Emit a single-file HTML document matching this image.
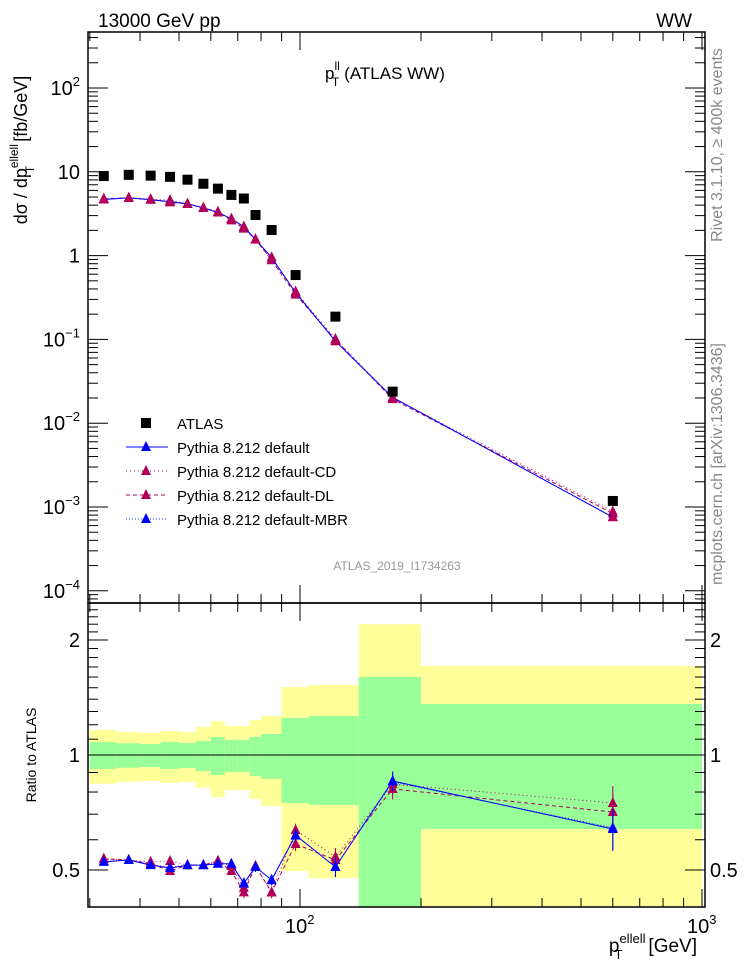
<!DOCTYPE html>
<html><head><meta charset="utf-8"><style>
html,body{margin:0;padding:0;background:#fff;}
svg{display:block;font-family:"Liberation Sans",sans-serif;}
</style></head><body>
<svg id="chart" width="746" height="972" viewBox="0 0 746 972" xmlns="http://www.w3.org/2000/svg">
<rect width="746" height="972" fill="#fff"/>
<g id="bands"></g>
<g id="grid"></g>
<g id="series"></g>
<text x="98" y="27" font-size="19">13000 GeV pp</text>
<text x="692" y="27" font-size="19" text-anchor="end">WW</text>
<text x="325" y="79" font-size="17">p<tspan font-size="12" dy="-9">ll</tspan><tspan font-size="12" dx="-8" dy="16">T</tspan><tspan dy="-7" dx="5">(ATLAS WW)</tspan></text>
<text x="397" y="570" font-size="12" fill="#999" text-anchor="middle">ATLAS_2019_I1734263</text>
<text transform="translate(722,145) rotate(-90)" font-size="16" fill="#888" text-anchor="middle">Rivet 3.1.10, ≥ 400k events</text>
<text transform="translate(722,464) rotate(-90)" font-size="16" fill="#888" text-anchor="middle">mcplots.cern.ch [arXiv:1306.3436]</text>
<text transform="translate(27,150) rotate(-90)" font-size="18" text-anchor="middle">dσ / dp<tspan font-size="12" dy="-9">ellell</tspan><tspan font-size="12" dx="-29" dy="16">T</tspan><tspan dy="-7" dx="24">[fb/GeV]</tspan></text>
<text transform="translate(36,755) rotate(-90)" font-size="14" text-anchor="middle">Ratio to ATLAS</text>
<text x="697" y="952" font-size="19" text-anchor="end">p<tspan font-size="13" dy="-9">ellell</tspan><tspan font-size="13" dx="-31" dy="16">T</tspan><tspan dy="-7" dx="26">[GeV]</tspan></text>
<g id="legend"></g>
</svg>
<script>
// ---- data ----
const xCenters = [32.5,37.5,42.5,47.5,52.5,57.5,62.5,67.5,72.5,77.5,85,97.5,122.5,170,600];
const binEdges = [30,35,40,45,50,55,60,65,70,75,80,90,105,140,200,1000];
const atlasValues = [8.9,9.2,9.0,8.7,8.05,7.2,6.3,5.3,4.8,3.05,2.02,0.586,0.187,0.0238,0.00118];
const bandYellowUp = [1.163,1.149,1.142,1.156,1.149,1.184,1.227,1.191,1.191,1.235,1.265,1.506,1.525,2.2,1.71];
const bandGreenUp = [1.081,1.073,1.068,1.081,1.075,1.088,1.115,1.095,1.095,1.115,1.135,1.25,1.265,1.6,1.36];
const bandGreenDown = [0.919,0.926,0.930,0.919,0.925,0.908,0.886,0.903,0.903,0.881,0.866,0.749,0.740,0.3,0.64];
const bandYellowDown = [0.841,0.851,0.855,0.845,0.850,0.821,0.776,0.810,0.810,0.767,0.735,0.497,0.476,0.3,0.3];
const ratioDefault = [0.525,0.531,0.515,0.506,0.515,0.515,0.519,0.519,0.462,0.509,0.471,0.617,0.509,0.855,0.64];
const ratioCD = [0.535,0.531,0.525,0.528,0.515,0.515,0.528,0.512,0.449,0.512,0.437,0.636,0.541,0.839,0.749];
const ratioDL = [0.535,0.531,0.520,0.497,0.515,0.515,0.528,0.497,0.437,0.512,0.437,0.585,0.531,0.815,0.709];
const ratioMBR = [0.527,0.531,0.517,0.508,0.515,0.515,0.520,0.517,0.460,0.510,0.470,0.615,0.510,0.850,0.645];
const ratioErr = [0.01,0.01,0.01,0.012,0.01,0.01,0.01,0.012,0.015,0.015,0.015,0.025,0.03,0.05,0.08];
const mainTicks = [-4,-3,-2,-1,0,1,2];
const mainTickBase = ["10","10","10","10","1","10","10"];
const mainTickExp = ["−4","−3","−2","−1","","","2"];
const ratioTicks = [0.5,1,2];
const ratioTickLabels = ["0.5","1","2"];
const legendLabels = ["ATLAS","Pythia 8.212 default","Pythia 8.212 default-CD","Pythia 8.212 default-DL","Pythia 8.212 default-MBR"];

// ---- axes ----
const L=88,R=705,T=32,MB=603,RB=907;
const X=v=>300+402*(Math.log10(v)-2);
const YM=v=>88+83.8*(2-Math.log10(v));
const YR=v=>755-382*Math.log10(v);
const NS="http://www.w3.org/2000/svg";
function mk(tag,attrs,parent){const e=document.createElementNS(NS,tag);for(const k in attrs)e.setAttribute(k,attrs[k]);parent.appendChild(e);return e;}
const bands=document.getElementById('bands'),grid=document.getElementById('grid'),ser=document.getElementById('series'),leg=document.getElementById('legend');

for(let i=0;i<xCenters.length;i++){
  const x0=Math.max(L,X(binEdges[i])),x1=Math.min(702,X(binEdges[i+1]));
  const clip=y=>Math.min(RB,Math.max(MB,y));
  const y1=mk('rect',{x:x0,y:clip(YR(bandYellowUp[i])),width:x1-x0,height:clip(YR(bandYellowDown[i]))-clip(YR(bandYellowUp[i])),fill:'#ffff99'},bands);
  
  
  const g1=mk('rect',{x:x0,y:clip(YR(bandGreenUp[i])),width:x1-x0,height:clip(YR(bandGreenDown[i]))-clip(YR(bandGreenUp[i])),fill:'#99ff99'},bands);
  
  
}
mk('line',{x1:L,x2:R,y1:YR(1),y2:YR(1),stroke:'#000','stroke-width':1},grid);

mk('rect',{x:L,y:T,width:R-L,height:MB-T,fill:'none',stroke:'#000','stroke-width':1.5},grid);
mk('rect',{x:L,y:MB,width:R-L,height:RB-MB,fill:'none',stroke:'#000','stroke-width':1.5},grid);

const xt=[];for(let d=1;d<=3;d++)for(let m=1;m<10;m++){const v=m*Math.pow(10,d);if(X(v)>=L&&X(v)<=R)xt.push([v,m===1]);}
xt.forEach(([v,maj])=>{const x=X(v),len=maj?18:9;
 [[T,1],[MB,-1],[MB,1],[RB,-1]].forEach(([y,s])=>mk('line',{x1:x,x2:x,y1:y,y2:y+s*len,stroke:'#000','stroke-width':1},grid));});
[[300,'10','2'],[702,'10','3']].forEach(([x,b,e])=>{const t=mk('text',{x:x-15,y:933,'font-size':20},grid);t.textContent=b;const s=mk('tspan',{'font-size':13,dy:-9},t);s.textContent=e;});

for(let d=-5;d<=2;d++)for(let m=1;m<10;m++){const v=m*Math.pow(10,d),y=YM(v);if(y<T||y>MB)continue;const len=m===1?20:10;
 mk('line',{x1:L,x2:L+len,y1:y,y2:y,stroke:'#000','stroke-width':1},grid);mk('line',{x1:R,x2:R-len,y1:y,y2:y,stroke:'#000','stroke-width':1},grid);}
mainTicks.forEach((p,i)=>{const y=YM(Math.pow(10,p))+7;
 const t=mk('text',{x:80,y:y,'font-size':20,'text-anchor':'end'},grid);
 
 
 if(mainTickExp[i]){const b=mk('tspan',{},t);b.textContent=mainTickBase[i];const s=mk('tspan',{'font-size':13,dy:-9},t);s.textContent=mainTickExp[i];}
 else t.textContent=mainTickBase[i];});
for(let v=0.4;v<=2.5001;v+=0.1){const y=YR(v);if(y<MB||y>RB)continue;const maj=[0.5,1,2].some(q=>Math.abs(q-v)<1e-6);const len=maj?20:10;
 mk('line',{x1:L,x2:L+len,y1:y,y2:y,stroke:'#000','stroke-width':1},grid);mk('line',{x1:R,x2:R-len,y1:y,y2:y,stroke:'#000','stroke-width':1},grid);}
ratioTicks.forEach((v,i)=>{const t=mk('text',{x:80,y:YR(v)+7,'font-size':20,'text-anchor':'end'},grid);t.textContent=ratioTickLabels[i];
 const t2=mk('text',{x:710,y:YR(v)+7,'font-size':20},grid);t2.textContent=ratioTickLabels[i];});

const styles=[
 {r:ratioDefault,c:'#0000ff',dash:'',name:'default'},
 {r:ratioCD,c:'#b0005a',dash:'1 3',name:'cd'},
 {r:ratioDL,c:'#b0005a',dash:'4 3',name:'dl'},
 {r:ratioMBR,c:'#2020ff',dash:'1 2',name:'mbr'}];
function tri(x,y,c,p,nm){const e=mk('polygon',{points:`${x},${y-6} ${x-5},${y+4} ${x+5},${y+4}`,fill:c},p);}
styles.slice().reverse().forEach(s=>{
 const mc=s.r.map((r,i)=>r*atlasValues[i]);
 mk('polyline',{points:xCenters.map((x,i)=>X(x)+','+YM(mc[i])).join(' '),fill:'none',stroke:s.c,'stroke-width':1,'stroke-dasharray':s.dash},ser);
 mk('polyline',{points:xCenters.map((x,i)=>X(x)+','+YR(s.r[i])).join(' '),fill:'none',stroke:s.c,'stroke-width':1,'stroke-dasharray':s.dash},ser);
 xCenters.forEach((x,i)=>{const px=X(x);
  const e=ratioErr[i];mk('line',{x1:px,x2:px,y1:YR(s.r[i]+e),y2:YR(s.r[i]-e),stroke:s.c,'stroke-width':1},ser);
  tri(px,YM(mc[i]),'#b0005a',ser,'mc-point-'+s.name);
  tri(px,YR(s.r[i]),s.name==='default'?'#0000ff':s.c,ser,'ratio-point-'+s.name);});
});
xCenters.forEach((x,i)=>{const r=mk('rect',{x:X(x)-5,y:YM(atlasValues[i])-5,width:10,height:10,fill:'#000'},ser);
 
 });

const ly=[423,447,471,495,519];
legendLabels.forEach((l,i)=>{const y=ly[i];
 if(i===0)mk('rect',{x:141,y:y-5,width:10,height:10,fill:'#000'},leg);
 else{const s=styles[i-1];mk('line',{x1:126,x2:168,y1:y,y2:y,stroke:s.c,'stroke-dasharray':s.dash},leg);tri(146,y,i===1||i===4?'#0000ff':'#b0005a',leg,'legend-marker');}
 const t=mk('text',{x:177,y:y+6,'font-size':15},leg);t.textContent=l;
 
 });
</script>
</body></html>
